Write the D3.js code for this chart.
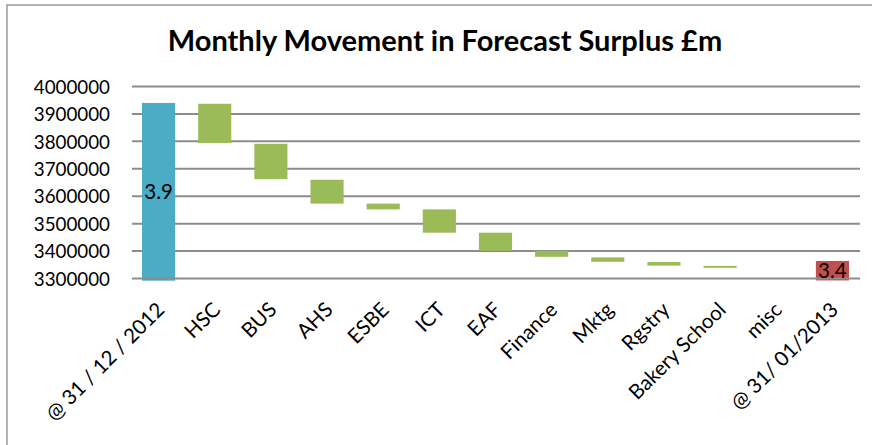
<!DOCTYPE html>
<html>
<head>
<meta charset="utf-8">
<script src="https://cdn.jsdelivr.net/npm/d3@7"></script>
<style>
  html, body { margin: 0; padding: 0; background: #fff; }
  svg { display: block; }
  text { font-family: Lato, "Open Sans", sans-serif; fill: #000; }
</style>
</head>
<body>
<svg id="chart" width="872" height="445"></svg>
<script>
// Waterfall: each bar spans from its lower to its upper value (£)
const categories = ["@ 31 / 12 / 2012", "HSC", "BUS", "AHS", "ESBE", "ICT", "EAF",
                    "Finance", "Mktg", "Rgstry", "Bakery School", "misc", "@ 31/ 01/2013"];
const lowerValues = [3292000, 3794000, 3662000, 3573000, 3552000, 3467000, 3401000,
                     3379000, 3361000, 3347000, 3339000, 3339000, 3293000];
const upperValues = [3940000, 3937000, 3791000, 3660000, 3573000, 3552000, 3467000,
                     3401000, 3377000, 3360000, 3346000, 3339000, 3364000];
const barKinds = ["start", "move", "move", "move", "move", "move", "move",
                  "move", "move", "move", "move", "move", "end"];
const yTicks = [3300000, 3400000, 3500000, 3600000, 3700000, 3800000, 3900000, 4000000];
const labelledBars = [0, 12];

const kindColour = { start: "#4BACC6", move: "#9BBB59", end: "#C0504D" };

const svg = d3.select("#chart");

// outer chart frame
svg.append("rect")
  .attr("x", 7).attr("y", 5)
  .attr("width", 900).attr("height", 500)
  .attr("fill", "none").attr("stroke", "#9a9a9a").attr("stroke-width", 1.5);

svg.append("text")
  .attr("x", 445).attr("y", 51)
  .attr("text-anchor", "middle")
  .style("font-weight", "bold").style("font-size", "29px")
  .text("Monthly Movement in Forecast Surplus £m");

const x = d3.scaleBand()
  .domain(categories)
  .range([130.5, 860.5])
  .paddingInner(0.41)
  .paddingOuter(0.205);

const y = d3.scaleLinear()
  .domain([3300000, 4000000])
  .range([278.5, 86.5]);

// horizontal gridlines (the lowest one doubles as the category axis and is drawn later)
svg.append("g")
  .selectAll("line")
  .data(yTicks.slice(1))
  .join("line")
  .attr("x1", 132).attr("x2", 860)
  .attr("y1", d => y(d)).attr("y2", d => y(d))
  .attr("stroke", "#8c8c8c").attr("stroke-width", 2);

// y axis labels
const yAxis = d3.axisLeft(y).tickValues(yTicks).tickSize(0).tickPadding(0)
  .tickFormat(d3.format("d"));
svg.append("g")
  .attr("transform", "translate(110,0)")
  .call(yAxis)
  .call(g => g.select(".domain").remove())
  .call(g => g.selectAll("text").style("font-size", "18.8px").attr("dy", "0.36em"));

const data = categories.map((c, i) => ({
  cat: c, lo: lowerValues[i], hi: upperValues[i], kind: barKinds[i]
}));

svg.append("g")
  .selectAll("rect")
  .data(data)
  .join("rect")
  .attr("x", d => x(d.cat))
  .attr("width", x.bandwidth())
  .attr("y", d => y(d.hi))
  .attr("height", d => y(d.lo) - y(d.hi))
  .attr("fill", d => kindColour[d.kind]);

// category axis line along 3300000
svg.append("line")
  .attr("x1", 132).attr("x2", 860)
  .attr("y1", y(3300000)).attr("y2", y(3300000))
  .attr("stroke", "#8c8c8c").attr("stroke-width", 2);

// value labels (£m) centred in the opening and closing bars
svg.append("g")
  .selectAll("text")
  .data(labelledBars.map(i => data[i]))
  .join("text")
  .attr("x", d => x(d.cat) + x.bandwidth() / 2)
  .attr("y", d => (y(d.lo) + y(d.hi)) / 2)
  .attr("dy", "0.36em")
  .attr("text-anchor", "middle")
  .style("font-size", "20.5px")
  .text(d => (d.hi / 1e6).toFixed(1));

// rotated category labels
const xAxis = d3.axisBottom(x).tickSize(0).tickPadding(0);
svg.append("g")
  .call(xAxis)
  .call(g => g.select(".domain").remove())
  .call(g => g.selectAll(".tick").attr("transform", d => `translate(${x(d) + x.bandwidth() / 2 + 7},311)`))
  .call(g => g.selectAll("text")
    .attr("x", 0).attr("y", 0).attr("dy", 0)
    .attr("text-anchor", "end")
    .attr("transform", "rotate(-45)")
    .style("font-size", "20.5px"));
</script>
</body>
</html>
